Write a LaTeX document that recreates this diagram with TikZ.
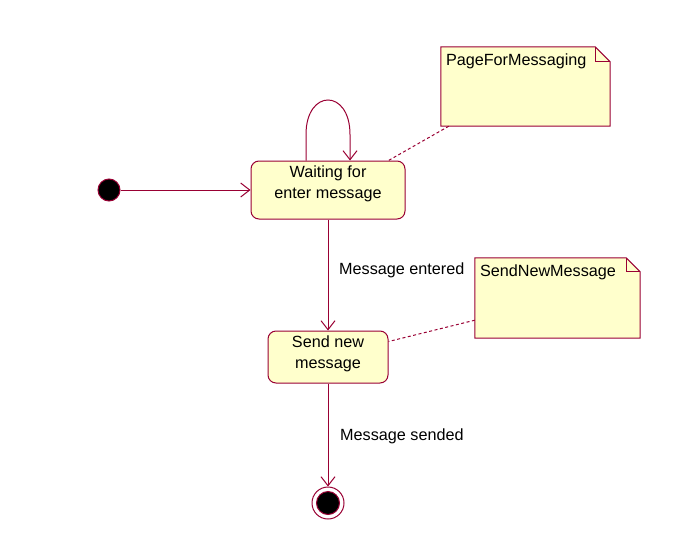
\documentclass[tikz,border=0pt]{standalone}
\usepackage{fontspec}
\setmainfont{Liberation Sans}
\usetikzlibrary{arrows.meta}
\definecolor{umlred}{RGB}{153,0,51}
\definecolor{umlfill}{RGB}{255,255,204}
\begin{document}
\begin{tikzpicture}[x=1pt,y=-1pt,
  every node/.style={font=\fontsize{16.2}{20.5}\selectfont, text=black},
  statebox/.style={draw=umlred, fill=umlfill, rounded corners=8pt, line width=1pt, inner sep=0pt},
  stxt/.style={align=center, inner sep=0pt},
  trans/.style={draw=umlred, line width=1pt, -{Straight Barb[length=9pt,width=14pt,line width=1pt]}},
  notebox/.style={inner sep=0pt},
  noteline/.style={draw=umlred, line width=1pt},
  notelink/.style={draw=umlred, line width=1pt, dash pattern=on 3pt off 2.5pt},
  lbl/.style={anchor=west, inner sep=0pt}
]
\useasboundingbox (0,0) rectangle (679,554);

% states
\node[statebox, minimum width=154pt, minimum height=58pt] (wait) at (328,190) {};
\node[stxt] (waittxt) at (328,184) {Waiting for\\enter message};
\node[statebox, minimum width=120pt, minimum height=52pt] (send) at (328,357) {};
\node[stxt] (sendtxt) at (328,354) {Send new\\message};

% initial and final
\node[circle, fill=black, draw=umlred, line width=1pt, minimum size=22pt, inner sep=0pt] (init) at (109,190) {};
\node[circle, fill=white, draw=umlred, line width=1pt, minimum size=32pt, inner sep=0pt] (fin) at (328,503) {};
\node[circle, fill=black, draw=umlred, line width=1pt, minimum size=23pt, inner sep=0pt] (finin) at (328,503) {};

% transitions
\draw[trans] (init) -- (wait);
\draw[trans] ([xshift=-22pt]wait.north) -- ([xshift=-22pt,yshift=26pt]wait.north)
  .. controls ([xshift=-22pt,yshift=72pt]wait.north) and ([xshift=22pt,yshift=72pt]wait.north)
  .. ([xshift=22pt,yshift=26pt]wait.north) -- ([xshift=22pt]wait.north);
\draw[trans] (wait.south) -- (send.north);
\draw[trans] (send.south) -- (fin.north);

\node[lbl] (lab1) at (339,270) {Message entered};
\node[lbl] (lab2) at (340,436) {Message sended};

% note 1
\node[notebox, minimum width=169pt, minimum height=79pt] (n1) at (525.5,86.5) {};
\draw[noteline, fill=umlfill] (n1.north west) -- ([xshift=-15pt]n1.north east) -- ([yshift=-15pt]n1.north east) -- (n1.south east) -- (n1.south west) -- cycle;
\draw[noteline] ([xshift=-15pt]n1.north east) -- ([xshift=-15pt,yshift=-15pt]n1.north east) -- ([yshift=-15pt]n1.north east);
\node[lbl] (n1t) at ([xshift=5pt,yshift=-15pt]n1.north west) {PageForMessaging};

% note 2
\node[notebox, minimum width=165pt, minimum height=80pt] (n2) at (557.5,298) {};
\draw[noteline, fill=umlfill] (n2.north west) -- ([xshift=-14pt]n2.north east) -- ([yshift=-14pt]n2.north east) -- (n2.south east) -- (n2.south west) -- cycle;
\draw[noteline] ([xshift=-14pt]n2.north east) -- ([xshift=-14pt,yshift=-14pt]n2.north east) -- ([yshift=-14pt]n2.north east);
\node[lbl] (n2t) at ([xshift=5pt,yshift=-15pt]n2.north west) {SendNewMessage};

% note links
\draw[notelink] ([xshift=8pt]n1.south west) -- ([xshift=-17pt]wait.north east);
\draw[notelink] ([yshift=18pt]n2.south west) -- ([yshift=-11pt]send.north east);
\end{tikzpicture}
\end{document}
